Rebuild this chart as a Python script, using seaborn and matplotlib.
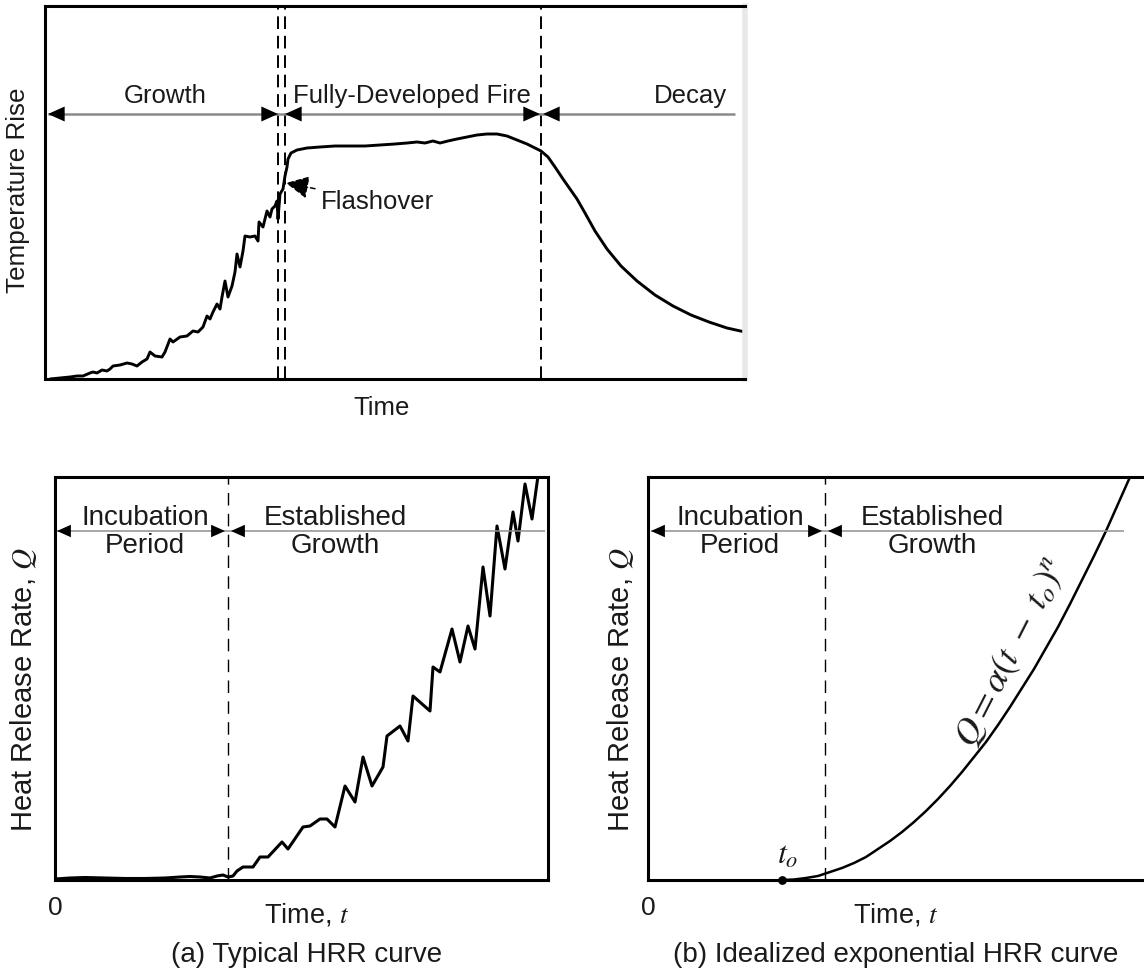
import matplotlib
matplotlib.use("Agg")
import matplotlib.pyplot as plt
import seaborn as sns
import pandas as pd

# ---------------------------------------------------------------------------
# Data (arbitrary time / temperature / heat-release units)
# ---------------------------------------------------------------------------
# Compartment fire temperature history: growth, flashover, fully developed, decay
fire_time = [5, 15, 25, 32, 38, 45, 48, 52, 57, 62, 65, 68, 75, 82, 87, 92, 97,
             102, 105, 110, 117, 120, 125, 128, 135, 142, 148, 153, 158, 162,
             165, 168, 172, 175, 177, 180, 183, 187, 190, 192, 195, 198, 200,
             205, 210, 213, 214, 218, 222, 225, 227, 230, 232, 233, 235, 238,
             240, 242, 243, 246, 252, 262, 275, 290, 305, 320, 335, 350, 362,
             372, 380, 388, 395, 403, 412, 422, 432, 442, 452, 462, 472, 482,
             490, 496, 503, 510, 518, 525, 532, 540, 550, 562, 576, 592, 610,
             628, 646, 664, 682, 700]
fire_temp = [0, 1, 2, 3, 3, 6, 7, 6, 9, 8, 10, 13, 14, 16, 15, 13, 17,
             20, 27, 23, 22, 27, 40, 37, 42, 43, 48, 47, 52, 63,
             60, 67, 75, 70, 82, 98, 82, 93, 107, 125, 112, 128, 143,
             142, 143, 138, 157, 152, 168, 162, 170, 173, 178, 160, 185, 190,
             203, 212, 220, 226, 229, 231, 232, 233, 233, 233, 234, 235, 236,
             237, 236, 238, 236, 238, 240, 242, 244, 245, 245, 243, 239, 235,
             231, 228, 222, 212, 200, 190, 180, 166, 148, 130, 113, 98, 84,
             73, 64, 57, 51, 47]

# Stage boundaries of the temperature history
flashover_start = 233
flashover_end = 240
decay_start = 496

# (a) Typical (measured) heat release rate curve
hrr_time = [0, 15, 30, 50, 70, 90, 110, 125, 135, 145, 155, 162, 168, 173,
            178, 182, 188, 198, 205, 213, 227, 233, 248, 255, 265, 272, 280,
            290, 300, 308, 317, 328, 332, 345, 353, 358, 375, 378, 385, 397,
            405, 413, 420, 428, 435, 442, 450, 458, 463, 470, 477, 483, 486]
hrr_value = [1, 2, 2.5, 2, 1.5, 1.5, 2, 3, 3.5, 3, 2, 4, 5, 3,
             4, 9, 13, 13, 23, 23, 38, 31, 53, 54, 61, 61, 53,
             94, 78, 123, 94, 113, 144, 154, 139, 184, 169, 213, 208, 251,
             218, 254, 231, 313, 264, 354, 311, 368, 339, 396, 361, 404, 415]

# (b) Idealized power-law HRR curve starting at t_o
ideal_time = [134, 146, 158, 170, 182, 194, 206, 218, 230, 242, 254, 266, 278,
              290, 302, 314, 326, 338, 350, 362, 374, 386, 398, 410, 422, 434,
              446, 458, 470, 482, 488]
ideal_value = [0, 0.5, 2, 4, 8, 12, 17, 23, 31, 39, 48, 58, 69,
               81, 94, 108, 123, 138, 155, 173, 192, 211, 232, 253, 276, 300,
               324, 349, 376, 403, 417]

incubation_end_a = 173
incubation_end_b = 177

# ---------------------------------------------------------------------------
# Style
# ---------------------------------------------------------------------------
sns.set_theme(style="white")
plt.rcParams["font.family"] = ["Liberation Sans", "DejaVu Sans"]
plt.rcParams["mathtext.fontset"] = "stix"
plt.rcParams["axes.linewidth"] = 2.2

W, H = 1144, 970
fig = plt.figure(figsize=(W / 100, H / 100), dpi=100)
fig.patch.set_facecolor("white")

TXT = "#1a1a1a"


def frame(ax, right_color="black", right_visible=True):
    for side in ["left", "bottom", "top", "right"]:
        ax.spines[side].set_color("black")
        ax.spines[side].set_linewidth(2.2)
    ax.spines["right"].set_color(right_color)
    ax.spines["right"].set_visible(right_visible)
    ax.grid(False)


def head(ax, x, y, direction, size):
    """Filled black arrow head with its tip at (x, y)."""
    ax.annotate("", xy=(x, y), xytext=(-direction * size, 0),
                textcoords="offset points",
                arrowprops=dict(arrowstyle="-|>,head_length=1.0,head_width=0.45",
                                mutation_scale=size, color="black", lw=0,
                                shrinkA=0, shrinkB=0))


# ---------------------------------------------------------------------------
# Top: temperature history
# ---------------------------------------------------------------------------
ax0 = fig.add_axes([45 / W, 1 - 380 / H, 700 / W, 373 / H])
fire_df = pd.DataFrame({"time": fire_time, "temp": fire_temp})
sns.lineplot(data=fire_df, x="time", y="temp", ax=ax0, sort=False,
             estimator=None, color="black", lw=2.1)
ax0.set_xlim(0, 700)
ax0.set_ylim(0, 373)
frame(ax0, right_color="#e8e8e8")
ax0.spines["right"].set_linewidth(4)
ax0.set_xticks([])
ax0.set_yticks([])

dash_top = (0, (6.5, 3.5))
for xv in (flashover_start, flashover_end, decay_start):
    ax0.axvline(xv, color="black", lw=1.4, ls=dash_top)

stage_y = 265
ax0.hlines(stage_y, 3, 690, color="#8a8a8a", lw=1.8)
head(ax0, 3, stage_y, -1, 12)
head(ax0, flashover_start, stage_y, 1, 12)
head(ax0, flashover_end, stage_y, -1, 12)
head(ax0, decay_start - 1, stage_y, 1, 12)
head(ax0, decay_start + 2, stage_y, -1, 12)

for label, xc in (("Growth", 120), ("Fully-Developed Fire", 367), ("Decay", 645)):
    ax0.text(xc, 284, label, ha="center", va="center", fontsize=18.5, color=TXT)

ax0.annotate("Flashover", xy=(241, 196), xytext=(276, 178),
             ha="left", va="center", fontsize=18.5, color=TXT,
             arrowprops=dict(arrowstyle="-|>,head_length=1.0,head_width=0.5",
                             mutation_scale=14, color="black", lw=1.1,
                             linestyle=(0, (3, 2)), shrinkA=2, shrinkB=0))

ax0.set_xlabel("Time", fontsize=18.5, color=TXT)
ax0.xaxis.set_label_coords(0.481, -0.075)
ax0.xaxis.label.set_verticalalignment("center")
ax0.set_ylabel("Temperature Rise", fontsize=18.7, color=TXT)
ax0.yaxis.set_label_coords(-0.0386, 0.509)
ax0.yaxis.label.set_verticalalignment("center")

# ---------------------------------------------------------------------------
# Bottom panels: heat release rate
# ---------------------------------------------------------------------------
ax1 = fig.add_axes([55 / W, 1 - 881 / H, 493 / W, 403 / H])
ax2 = fig.add_axes([648 / W, 1 - 881 / H, 498 / W, 403 / H])

hrr_df = pd.DataFrame({"time": hrr_time, "hrr": hrr_value})
ideal_df = pd.DataFrame({"time": ideal_time, "hrr": ideal_value})

sns.lineplot(data=hrr_df, x="time", y="hrr", ax=ax1, sort=False,
             estimator=None, color="black", lw=2.2)
sns.lineplot(data=ideal_df, x="time", y="hrr", ax=ax2, sort=False,
             estimator=None, color="black", lw=1.8)
ax2.scatter([ideal_time[0]], [ideal_value[0]], s=28, color="black",
            zorder=5, clip_on=False)

ax1.set_xlim(0, 493)
ax2.set_xlim(0, 498)
frame(ax1)
frame(ax2, right_visible=False)

dash_bot = (0, (9, 6))
stage_y2 = 349
panels = [
    (ax1, incubation_end_a, 490, 2, 90, 280, 0.511, "(a) Typical HRR curve"),
    (ax2, incubation_end_b, 476, 3, 92, 284, 0.497,
     "(b) Idealized exponential HRR curve"),
]
for ax, split, line_end, start, xc_inc, xc_est, xlab, caption in panels:
    ax.set_ylim(0, 403)
    ax.axvline(split, color="black", lw=1.0, ls=dash_bot)
    ax.hlines(stage_y2, start, line_end, color="#8f8f8f", lw=1.1)
    head(ax, start, stage_y2, -1, 10)
    head(ax, split - 3, stage_y2, 1, 10)
    head(ax, split + 3, stage_y2, -1, 10)
    ax.text(xc_inc, stage_y2, "Incubation\nPeriod", ha="center", va="center",
            fontsize=20, color=TXT, linespacing=1.12)
    ax.text(xc_est, stage_y2, "Established\nGrowth", ha="center", va="center",
            fontsize=20, color=TXT, linespacing=1.12)
    ax.set_xticks([0])
    ax.set_xticklabels(["0"], fontsize=19, color=TXT)
    ax.set_yticks([])
    ax.tick_params(axis="x", length=0, pad=11)
    ax.set_xlabel("Time, $t$", fontsize=19.5, color=TXT)
    ax.xaxis.set_label_coords(xlab, -0.084)
    ax.xaxis.label.set_verticalalignment("center")
    ax.set_ylabel("Heat Release Rate, $Q$", fontsize=21, color=TXT)
    ax.text(xlab, -0.184, caption, transform=ax.transAxes, ha="center",
            va="center", fontsize=20, color=TXT)

ax1.yaxis.set_label_coords(-0.063, 0.474)
ax2.yaxis.set_label_coords(-0.056, 0.474)
for ax in (ax1, ax2):
    ax.yaxis.label.set_verticalalignment("center")

ax2.text(ideal_time[0] + 6, 25, "$t_o$", ha="center", va="center",
         fontsize=23, color=TXT)
ax2.text(364, 228, r"$Q = \alpha(t\ -\ t_o)^n$", rotation=63,
         rotation_mode="anchor", ha="center", va="center",
         fontsize=26, color=TXT)

fig.savefig("out.png", dpi=100, facecolor="white")
